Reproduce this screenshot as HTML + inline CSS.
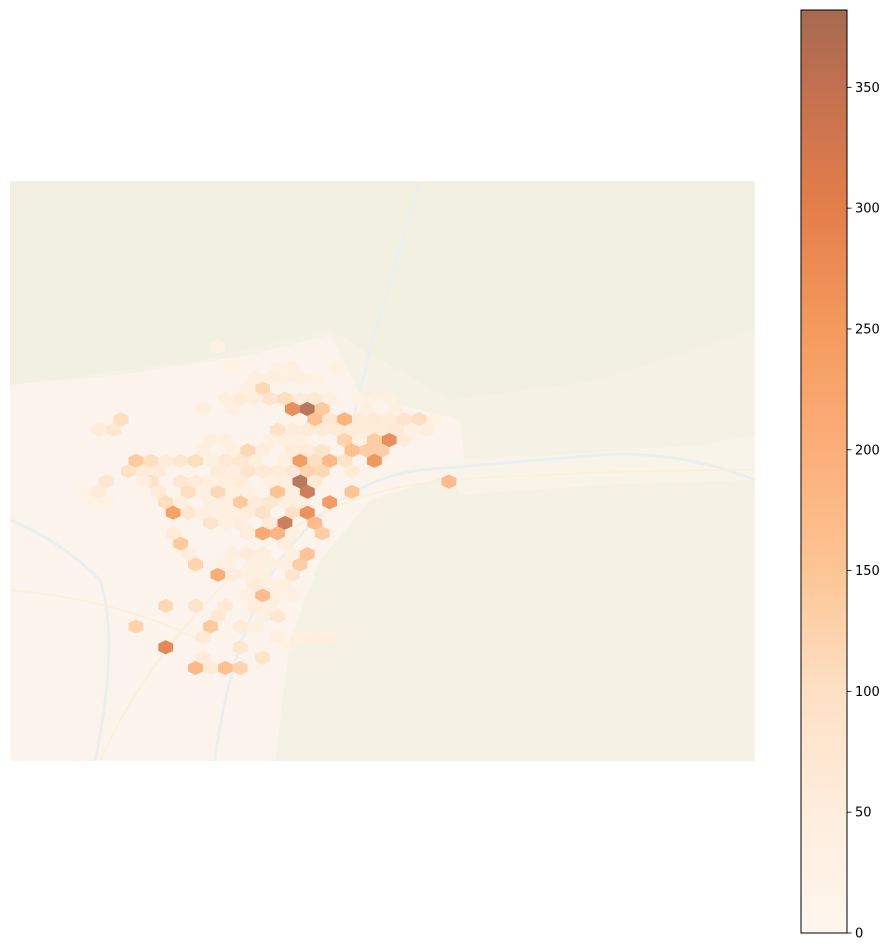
<!DOCTYPE html>
<html><head><meta charset="utf-8"><style>
html,body{margin:0;padding:0;background:#fff;width:892px;height:952px;overflow:hidden}
text{font-family:"DejaVu Sans","Liberation Sans",sans-serif}
</style></head><body>
<svg id="chart" width="892" height="952" xmlns="http://www.w3.org/2000/svg">
<defs>
<linearGradient id="cbg" x1="0" y1="1" x2="0" y2="0">
<stop offset="0" stop-color="#fef6ee"/><stop offset="0.131" stop-color="#feeddc"/>
<stop offset="0.262" stop-color="#fde0c4"/><stop offset="0.393" stop-color="#fdc594"/>
<stop offset="0.524" stop-color="#fcae79"/><stop offset="0.654" stop-color="#f49a5e"/>
<stop offset="0.785" stop-color="#e47e4b"/><stop offset="0.916" stop-color="#c27050"/>
<stop offset="1" stop-color="#a66a50"/></linearGradient>
<clipPath id="mapclip"><rect x="10" y="181" width="745" height="580"/></clipPath>
</defs>
<g clip-path="url(#mapclip)">
<rect x="10" y="181" width="745" height="580" fill="#f5f1e4"/>
<path d="M10 181 L755 181 L755 330 L600 380 L450 400 L330 330 L200 360 L10 385 Z" fill="#f2f0e1"/>
<path d="M10 385 L120 375 L250 355 L330 335 L360 395 L460 420 L465 470 L370 500 L320 560 L290 640 L275 761 L10 761 Z" fill="#fcf4ec"/>
<path d="M440 460 L560 455 L700 445 L755 435 L755 480 L600 485 L460 495 Z" fill="#f9f4ea"/>
<path d="M10 520 Q60 540 100 580 Q120 640 95 761 M215 761 Q230 640 280 560 Q340 480 420 470 Q520 462 600 455 Q680 450 755 480 M345 460 Q360 380 385 300 Q405 230 420 181" fill="none" stroke="#ebf0ef" stroke-width="3"/>
<path d="M10 590 Q120 600 200 640 M100 761 Q150 650 250 560 Q330 490 450 480 Q600 470 755 470" fill="none" stroke="#fbefd6" stroke-width="1.5"/>
</g>
<g id="hexes" clip-path="url(#mapclip)"></g>
<g id="cbar">
<rect x="801" y="10" width="46" height="923" fill="url(#cbg)" stroke="#000" stroke-width="1"/>
</g>
</svg>
<script>
// hex grid indices (half-step column, row) and counts
const hexCols = [-6,-9,-7,-5,-3,-1,1,3,7,9,11,-2,0,2,1,3,5,7,9,11,13,15,-4,-2,0,2,4,6,8,10,12,14,16,-3,-1,5,7,9,11,13,-2,0,2,6,8,10,-1,1,3,5,9,-2,0,2,6,-3,-1,1,19,-4,0,6,-1,3,-2,0,-5,-3,1,
-25,-28,-26,-23,-21,-19,-17,-15,-11,-9,-7,-8,-6,-24,-22,-20,-12,-10,-8,-6,-4,-27,-21,-17,-15,-13,-9,-28,-20,-16,-12,-4,-19,-9,-7,-5,-18,-16,-8,-6,-13,-9,-18,-8,-6,-4,2,-17,-16,-8,0,-15,-1,-12,-10,-2,-7,-6,-19,-15,-7,-11,-4,-12,-23,-13,-9,-4,-14,-19,-9,-14,-6,-15,-11,-9,-13,
-8,-4,-10,-2,-12,-14,-11,-7,-5,-3,-1,1,4,-2,8,12,-10,-13,-11,-5,-3,-14,-10,-6,-2,-13,-11,-7,-3,-12,-10,-2,-13,-11,-5,-3,-1,-14,-10,-8,-2,-17,-13,-11,-7,-3,-14,-12,-10,-8,-2,-11,-9,-5,-3,-16,-10,-8,-6,-2,-7,-5,-11,-3,-10,-8,-6,-2,-7,-5,-3,-8,-4,-7,-5,-6,-7,-4,-1,1,3,-3,-8,17,14,-29,-30,-27,-22,-24];
const hexRows = [-2,-1,-1,-1,-1,-1,-1,-1,-1,-1,-1,0,0,0,1,1,1,1,1,1,1,1,2,2,2,2,2,2,2,2,2,2,2,3,3,3,3,3,3,3,4,4,4,4,4,4,5,5,5,5,5,6,6,6,6,7,7,7,7,8,8,8,9,9,10,10,11,11,11,
1,2,2,5,5,5,5,5,5,5,5,4,4,6,6,6,6,6,6,6,6,7,7,7,7,7,7,8,8,8,8,8,9,9,9,9,10,10,10,10,11,11,12,12,12,12,12,13,14,14,14,15,15,16,16,16,17,18,19,19,19,19,20,20,21,21,21,22,22,23,23,24,24,25,25,25,25,
-2,-4,-4,-4,-6,0,-1,-3,-3,-3,-3,-3,-4,-4,0,0,0,3,3,3,3,4,4,4,4,5,5,5,5,6,6,6,7,7,7,7,9,8,8,8,8,9,9,9,9,9,10,10,10,10,12,11,11,11,13,14,14,14,14,14,15,15,15,15,16,16,16,18,17,17,17,18,18,19,19,20,21,22,22,22,22,23,12,1,2,9,8,9,7,10];
const hexCounts = [120,60,50,90,110,60,70,40,30,30,30,290,370,150,170,80,200,60,70,60,90,110,100,60,60,70,70,60,60,60,70,80,50,60,50,130,40,140,290,60,170,60,90,170,140,140,260,110,190,90,270,230,130,120,70,90,370,70,180,120,340,160,60,260,100,280,210,340,180,
110,60,80,150,110,60,80,110,200,80,110,120,110,100,60,60,140,50,90,70,60,80,100,80,60,60,60,60,60,110,120,160,110,150,170,80,250,80,130,100,90,110,60,150,230,200,140,150,100,150,160,130,140,220,70,80,150,180,120,90,110,70,80,70,130,150,60,70,70,300,80,60,90,190,170,130,60,
40,35,30,40,30,45,40,45,40,45,40,35,35,40,45,40,45,40,45,40,45,40,40,45,40,40,45,40,45,40,40,50,40,45,40,40,45,40,45,40,50,40,40,45,40,50,40,40,45,40,40,45,45,40,50,40,45,40,50,40,45,40,45,40,50,40,45,40,45,40,40,45,40,45,40,40,40,40,35,45,40,30,30,35,30,30,30,35,40];
const cbTicks = [0,50,100,150,200,250,300,350];
const cbMax = 382;

const NS='http://www.w3.org/2000/svg';
const x0=307.3, dx=7.45, y0=409, dy=10.36, R=7.1;
const xOf=c=>x0+c*dx, yOf=r=>y0+r*dy;
const stops=[[0,[254,246,238]],[50,[254,237,220]],[100,[253,224,196]],[150,[253,197,148]],[200,[252,174,121]],[250,[244,154,94]],[300,[228,126,75]],[350,[194,112,80]],[382,[166,106,80]]];
function color(v){
  for(let i=1;i<stops.length;i++){ if(v<=stops[i][0]||i===stops.length-1){
    const a=stops[i-1],b=stops[i];const t=Math.max(0,Math.min(1,(v-a[0])/(b[0]-a[0])));
    const c=a[1].map((q,k)=>Math.round(q+(b[1][k]-q)*t));return `rgb(${c[0]},${c[1]},${c[2]})`;}}
}
const g=document.getElementById('hexes');
const n=Math.min(hexCols.length,hexRows.length,hexCounts.length);
for(let i=0;i<n;i++){
  const cx=xOf(hexCols[i]), cy=yOf(hexRows[i]);
  const pts=[[0,-R],[dx,-R/2],[dx,R/2],[0,R],[-dx,R/2],[-dx,-R/2]].map(p=>(cx+p[0]).toFixed(2)+','+(cy+p[1]).toFixed(2)).join(' ');
  const p=document.createElementNS(NS,'polygon');
  p.setAttribute('points',pts);
  p.setAttribute('fill',color(hexCounts[i]));
  p.setAttribute('fill-opacity','0.92');
  
  
  g.appendChild(p);
}
const cb=document.getElementById('cbar');
const cbY=v=>933-v*(923/cbMax);
cbTicks.forEach(t=>{
  const y=cbY(t);
  const l=document.createElementNS(NS,'line');
  l.setAttribute('x1',847);l.setAttribute('x2',851.5);l.setAttribute('y1',y);l.setAttribute('y2',y);
  l.setAttribute('stroke','#000');l.setAttribute('stroke-width','0.8');
  
  
  cb.appendChild(l);
  const tx=document.createElementNS(NS,'text');
  tx.setAttribute('x',855);tx.setAttribute('y',y+4.5);tx.setAttribute('font-size','13');
  tx.textContent=String(t);
  
  
  cb.appendChild(tx);
});
</script>
</body></html>
